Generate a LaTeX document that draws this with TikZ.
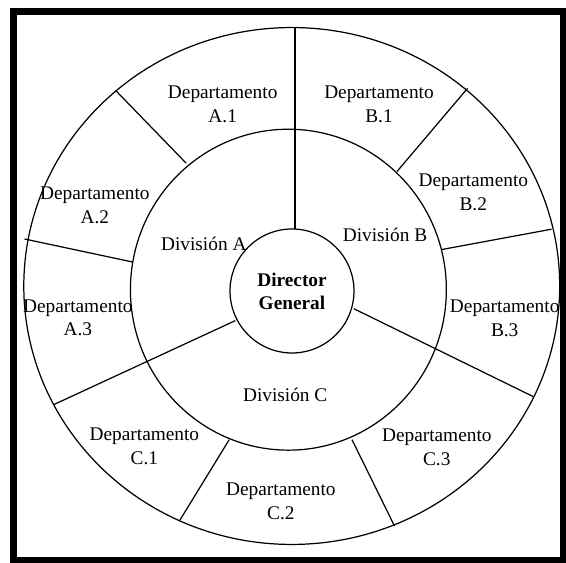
\documentclass[tikz,border=0pt]{standalone}
\usepackage{fontspec}
\setmainfont{Liberation Serif}
\usetikzlibrary{shapes.geometric}

\begin{document}
\begin{tikzpicture}[
  x=0.02cm, y=-0.02cm,
  ring/.style  = {ellipse, draw, line width=0.7pt, inner sep=0pt},
  sep/.style   = {line width=0.7pt},
  dept/.style  = {align=center, font=\fontsize{11}{13.5}\selectfont},
  divn/.style  = {font=\fontsize{11}{13.5}\selectfont},
  ]
  \useasboundingbox (0,0) rectangle (566,563);
  % frame
  \draw[line width=0.14cm] (13.75,11.4) rectangle (563.5,560.5);

  % rings
  \node (deps) at (291.75,286) [ring, minimum width=10.72cm, minimum height=10.34cm] {};
  \node (divs) at (288.4,289.7) [ring, minimum width=6.32cm, minimum height=6.42cm] {};
  \node (dg)   at (292,291)     [ring, minimum size=2.48cm, align=center,
                                 font=\fontsize{11}{13}\selectfont\bfseries] {Director\\General};

  % ends of the dividing lines
  \coordinate (ab1) at (295,229);   \coordinate (ab2) at (295,28);
  \coordinate (a12i) at (186,163);  \coordinate (a12o) at (115.5,90.3);
  \coordinate (a23i) at (132.5,262); \coordinate (a23o) at (24.5,239);
  \coordinate (ac1) at (235.4,320.6); \coordinate (ac2) at (54,404.5);
  \coordinate (bc1) at (353.8,308.7); \coordinate (bc2) at (533,396.5);
  \coordinate (c12i) at (229.2,439.7); \coordinate (c12o) at (180,520);
  \coordinate (c23i) at (352,439.7);  \coordinate (c23o) at (394.5,526);
  \coordinate (b12i) at (397,171.5);  \coordinate (b12o) at (467.5,88.4);
  \coordinate (b23i) at (442,249.5);  \coordinate (b23o) at (551.6,229.2);

  % dividing lines
  \draw[sep] (ab1) -- (ab2);
  \draw[sep] (ac1) -- (ac2);
  \draw[sep] (bc1) -- (bc2);
  \draw[sep] (a12i) -- (a12o);
  \draw[sep] (a23i) -- (a23o);
  \draw[sep] (b12i) -- (b12o);
  \draw[sep] (b23i) -- (b23o);
  \draw[sep] (c12i) -- (c12o);
  \draw[sep] (c23i) -- (c23o);

  % divisions
  \node (divA) at (203.8,243.7) [divn] {División A};
  \node (divB) at (385,234.7)   [divn] {División B};
  \node (divC) at (285.2,395.3) [divn] {División C};

  % departments
  \node (depA1) at (222.7,104)   [dept] {Departamento\\A.1};
  \node (depA2) at (94.8,205.5)  [dept] {Departamento\\A.2};
  \node (depA3) at (77.8,317.7)  [dept] {Departamento\\A.3};
  \node (depB1) at (379,104)     [dept] {Departamento\\B.1};
  \node (depB2) at (473.3,192)   [dept] {Departamento\\B.2};
  \node (depB3) at (504.7,318.6) [dept] {Departamento\\B.3};
  \node (depC1) at (144.4,446)   [dept] {Departamento\\C.1};
  \node (depC2) at (280.9,501.4) [dept] {Departamento\\C.2};
  \node (depC3) at (436.8,447)   [dept] {Departamento\\C.3};
\end{tikzpicture}
\end{document}
